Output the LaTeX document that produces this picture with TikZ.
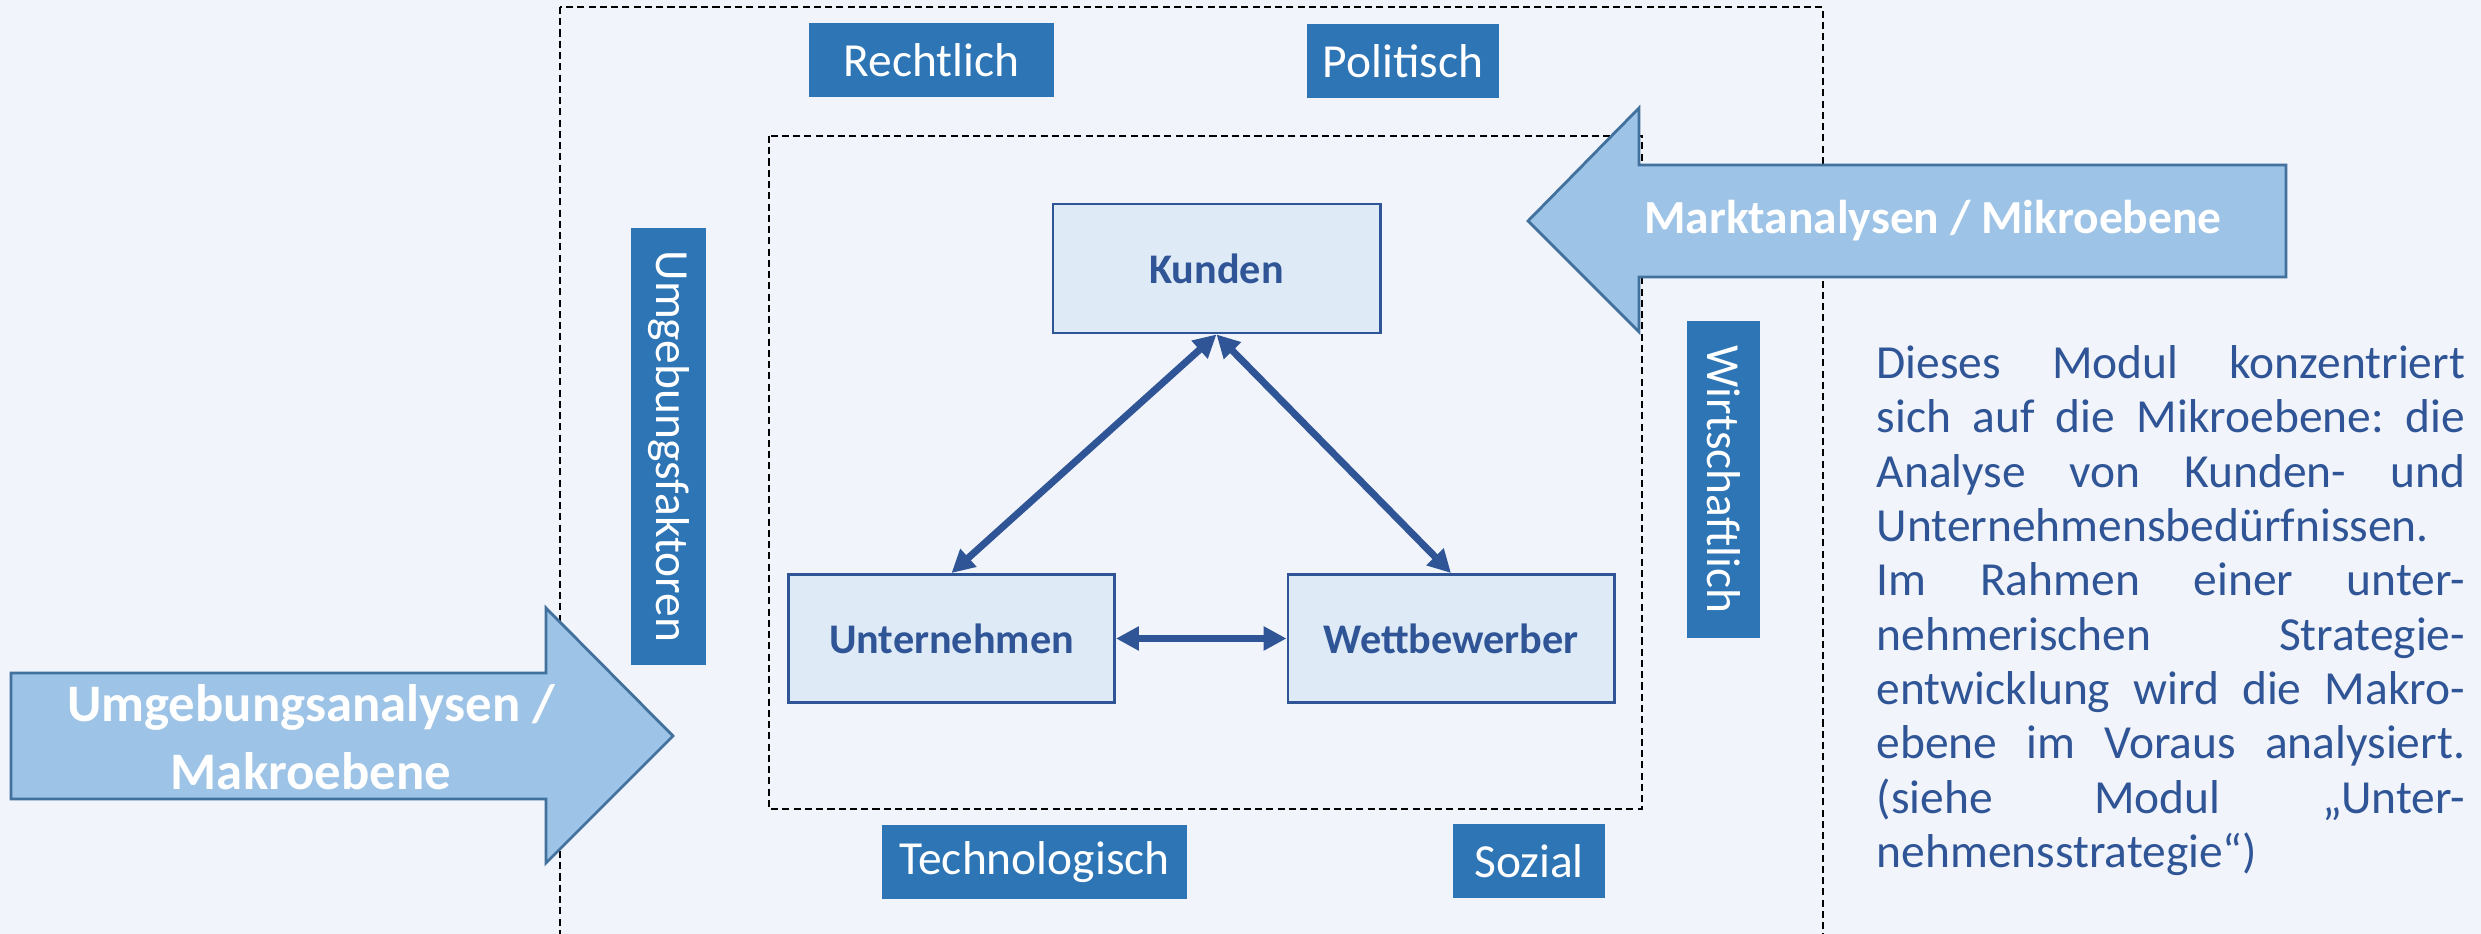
\documentclass[tikz,border=0pt]{standalone}
\usepackage{fontspec}
\setmainfont{Carlito}
\usetikzlibrary{arrows.meta}

\definecolor{bgblue}{HTML}{F1F4FA}
\definecolor{factorblue}{HTML}{2E75B6}
\definecolor{actorfill}{HTML}{DEEBF7}
\definecolor{darkblue}{HTML}{2F5597}
\definecolor{arrowfill}{HTML}{9DC3E6}
\definecolor{arrowline}{HTML}{41719C}

\tikzset{
  factor/.style={fill=factorblue, text=white, inner sep=0pt, minimum height=0.74cm, font=\fontsize{13.5}{16}\selectfont},
  actor/.style={draw=darkblue, fill=actorfill, text=darkblue, inner sep=0pt, line width=0.8pt, minimum width=3.26cm, minimum height=1.28cm, font=\fontsize{12}{14}\selectfont\bfseries},
  dashedframe/.style={dash pattern=on 2pt off 1.2pt, line width=0.6pt},
  bigarrow/.style={fill=arrowfill, draw=arrowline, line width=0.8pt},
  link/.style={arrows={Triangle[length=6.5pt,width=6.5pt]-Triangle[length=6.5pt,width=6.5pt]}, line width=2pt, draw=darkblue}
}
\newcommand{\jline}[1]{{\spaceskip=0.226em plus 1fil\makebox[\hsize][s]{#1}}\\}

\begin{document}
\begin{tikzpicture}[x=0.01cm,y=-0.01cm]

    \useasboundingbox[fill=bgblue] (0,0) rectangle (2481,934);
    \clip (0,0) rectangle (2481,934);

    \draw[dashedframe] (560,7) rectangle (1823,990);
    \draw[dashedframe] (769,136) rectangle (1642,809);

    \node[factor, minimum width=2.45cm] (recht) at (931.5,60) {Rechtlich};
    \node[factor, minimum width=1.92cm] (polit) at (1403,61) {Politisch};
    \node[factor, minimum width=3.05cm] (techno) at (1034.5,862) {Technologisch};
    \node[factor, minimum width=1.52cm] (sozial) at (1529,861) {Sozial};
    \node[factor, rotate=-90, minimum width=4.37cm, minimum height=0.75cm] (umfakt) at (668.5,446.5) {Umgebungsfaktoren};
    \node[factor, rotate=-90, minimum width=3.17cm, minimum height=0.73cm] (wirt) at (1723.5,479.5) {Wirtschaftlich};

    \node[actor, minimum width=3.27cm, minimum height=1.29cm] (kunden) at (1216.5,268.5) {Kunden};
    \node[actor] (unter) at (951.5,638.5) {Unternehmen};
    \node[actor] (wettb) at (1451,638.5) {Wettbewerber};

    \draw[link] (kunden.south) -- (unter.north);
    \draw[link] (kunden.south) -- (wettb.north);
    \draw[link] (unter) -- (wettb);

    \draw[bigarrow] (11,673) -- (546,673) -- (546,608) -- (673,736) -- (546,863) -- (546,799) -- (11,799) -- cycle;
    \node[align=center, text=white, font=\fontsize{15}{19.3}\selectfont\bfseries] (makro) at (311,737) {Umgebungsanalysen /\\Makroebene};

    \draw[bigarrow] (2286,165) -- (1639,165) -- (1639,108) -- (1528,221) -- (1639,332) -- (1639,277) -- (2286,277) -- cycle;
    \node[text=white, font=\fontsize{13.5}{16}\selectfont\bfseries] (mikro) at (1933,221) {Marktanalysen / Mikroebene};

    \node[anchor=north west, inner sep=0pt, text width=5.88cm, text=darkblue, font=\fontsize{13.5}{15.45}\selectfont\frenchspacing] (modul) at (1876,345) {\noindent
      \jline{Dieses Modul konzentriert}
      \jline{sich auf die Mikroebene: die}
      \jline{Analyse von Kunden- und}
      Unternehmensbedürfnissen.\\
      \jline{Im Rahmen einer unter-}
      \jline{nehmerischen Strategie-}
      \jline{entwicklung wird die Makro-}
      \jline{ebene im Voraus analysiert.}
      \jline{(siehe Modul „Unter-}
      nehmensstrategie“)};

\end{tikzpicture}
\end{document}
